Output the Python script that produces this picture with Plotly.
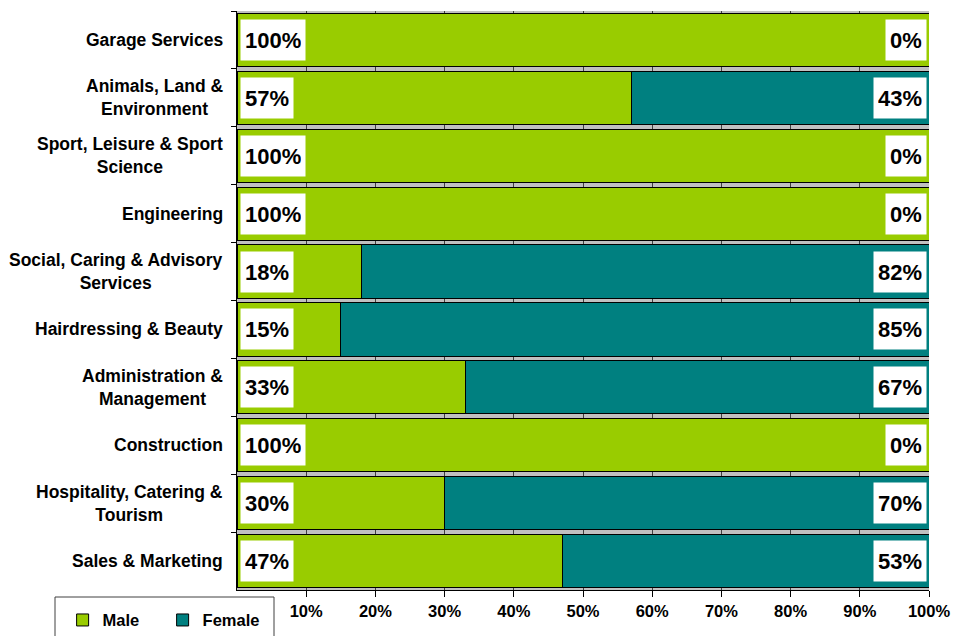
import plotly.graph_objects as go

# Learner gender split by sector (percent), listed top to bottom
sectors = [
    "Garage Services",
    "Animals, Land &<br>Environment",
    "Sport, Leisure & Sport<br>Science",
    "Engineering",
    "Social, Caring & Advisory<br>Services",
    "Hairdressing & Beauty",
    "Administration &<br>Management",
    "Construction",
    "Hospitality, Catering &<br>Tourism",
    "Sales & Marketing",
]
male_pct = [100, 57, 100, 100, 18, 15, 33, 100, 30, 47]
female_pct = [0, 43, 0, 0, 82, 85, 67, 0, 70, 53]
x_ticks = [10, 20, 30, 40, 50, 60, 70, 80, 90, 100]

FONT = "Arial, Liberation Sans, sans-serif"
GREEN = "#99CC00"
TEAL = "#008080"

fig = go.Figure()
fig.add_trace(go.Bar(
    y=sectors, x=male_pct, name="<b>Male</b>", orientation="h",
    marker=dict(color=GREEN, line=dict(color="black", width=1)),
    hoverinfo="skip",
))
fig.add_trace(go.Bar(
    y=sectors, x=female_pct, name="<b>Female</b>", orientation="h",
    marker=dict(color=TEAL, line=dict(color="black", width=1)),
    hoverinfo="skip",
))

annotations = []
for s, m, f in zip(sectors, male_pct, female_pct):
    # sector name, centred lines, right of it sits against the axis
    annotations.append(dict(
        x=0, y=s, xref="paper", yref="y", text=f"<b>{s}</b>", showarrow=False,
        xanchor="right", xshift=-12, align="center",
        font=dict(family=FONT, size=17.5, color="black"),
    ))
    # white-boxed value labels at both ends of each bar
    annotations.append(dict(
        x=0, y=s, xref="x", yref="y", text=f"<b>{m}%</b>", showarrow=False,
        xanchor="left", xshift=3, bgcolor="white", borderpad=4, height=32,
        font=dict(family=FONT, size=22, color="black"),
    ))
    annotations.append(dict(
        x=100, y=s, xref="x", yref="y", text=f"<b>{f}%</b>", showarrow=False,
        xanchor="right", xshift=-2, bgcolor="white", borderpad=4, height=32,
        font=dict(family=FONT, size=22, color="black"),
    ))

fig.update_layout(
    width=954, height=636,
    margin=dict(l=237, r=25, t=11, b=46, autoexpand=False),
    barmode="stack", bargap=0.08,
    paper_bgcolor="white", plot_bgcolor="#C0C0C0",
    font=dict(family=FONT, size=16, color="black"),
    annotations=annotations,
    showlegend=True,
    legend=dict(
        orientation="h", x=-0.252, xanchor="left", y=-0.022, yanchor="top",
        entrywidth=55, entrywidthmode="pixels",
        font=dict(family=FONT, size=16.5, color="black"),
        bgcolor="rgba(0,0,0,0)", borderwidth=0, traceorder="normal",
    ),
    shapes=[dict(
        type="rect", xref="paper", yref="paper",
        x0=(55 - 237) / 692, x1=(274 - 237) / 692,
        y0=(590 - 645) / 579, y1=(590 - 597) / 579,
        line=dict(color="#404040", width=1), fillcolor="white", layer="below",
    )],
)

fig.update_xaxes(
    range=[0, 100], tickvals=x_ticks,
    ticktext=[f"<b>{v}%</b>" for v in x_ticks],
    ticks="outside", ticklen=6, tickcolor="black",
    showgrid=True, gridcolor="#404040", gridwidth=1,
    showline=True, linecolor="black", linewidth=1,
    zeroline=False, automargin=False,
    tickfont=dict(family=FONT, size=16.5, color="black"),
)
fig.update_yaxes(
    type="category", categoryorder="array", categoryarray=sectors,
    range=[9.5, -0.5], tickson="boundaries",
    ticks="outside", ticklen=5, tickcolor="black",
    showgrid=False, showline=True, linecolor="black", linewidth=1,
    showticklabels=False, automargin=False,
)

fig.write_html("out.html")
